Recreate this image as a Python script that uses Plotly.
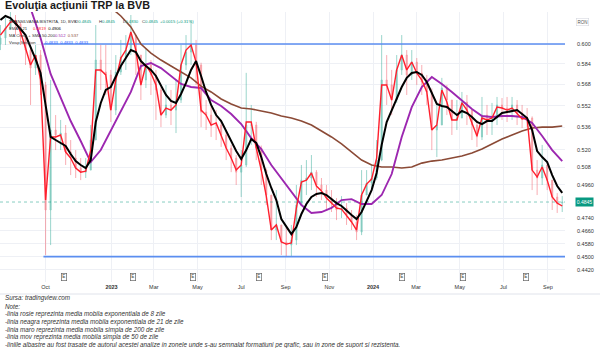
import math
import pandas as pd
import plotly.graph_objects as go

# ---------------- data ----------------
week_dates = pd.date_range("2022-07-30", periods=113, freq="7D")
ma_dates = pd.date_range("2022-07-30", periods=57, freq="14D")

first_open = 0.6000
close = [
    .6049, .6132, .6198, .6164, .6073, .5951, .5808, .5911, .5676, .4793,
    .5341, .5305, .5319, .5184, .5142, .5073, .5045, .5059, .5269, .5871,
    .5777, .5754, .5487, .5777, .5895, .5951, .6073, .5911, .5715, .5832,
    .5754, .5638, .5450, .5525, .5487, .5562, .5832, .5935, .5992, .5832,
    .5472, .5450, .5377, .5377, .5305, .5212, .5142, .5045, .5094, .5377,
    .5377, .5212, .5059, .4891, .4665, .4697, .4590, .4571, .4602, .4825,
    .4991, .5005, .5045, .4958, .4924, .4871, .4838, .4793, .4806, .4761,
    .4716, .4652, .4891, .4971, .5005, .5128, .5715, .5676, .5562, .5793,
    .5911, .5754, .5855, .5769, .5699, .5623, .5341, .5377, .5653, .5562,
    .5414, .5428, .5547, .5487, .5377, .5291, .5450, .5399, .5428, .5525,
    .5502, .5487, .5525, .5465, .5428, .5428, .5059, .5005, .5094, .4991,
    .4878, .4838, .4845]
high = [
    .6156, .6215, .6265, .6240, .6181, .6073, .5992, .5992, .5951, .5700,
    .5715, .5450, .5414, .5377, .5269, .5198, .5142, .5142, .5377, .6156,
    .5992, .5992, .5793, .5911, .6033, .6073, .6240, .6073, .5911, .5967,
    .5871, .5793, .5660, .5676, .5638, .5715, .5992, .6073, .6198, .6033,
    .5850, .5562, .5525, .5487, .5414, .5341, .5234, .5163, .5198, .5770,
    .5525, .5400, .5230, .5070, .4891, .4924, .4697, .4678, .4697, .4958,
    .5094, .5128, .5163, .5059, .5005, .4958, .4924, .4871, .4884, .4838,
    .4793, .4761, .5059, .5059, .5094, .5269, .6073, .5911, .5793, .5911,
    .6073, .5951, .5951, .5887, .5832, .5754, .5650, .5525, .5731, .5676,
    .5562, .5562, .5623, .5600, .5487, .5414, .5585, .5525, .5540, .5585,
    .5577, .5585, .5585, .5562, .5525, .5502, .5440, .5128, .5234, .5094,
    .4991, .4904, .4884]
low = [
    .5951, .5992, .6115, .6073, .5992, .5832, .5525, .5754, .5600, .4510,
    .4571, .5198, .5198, .5094, .5025, .5005, .4991, .5005, .5059, .5269,
    .5638, .5600, .5399, .5450, .5754, .5793, .5911, .5754, .5562, .5653,
    .5600, .5414, .5362, .5428, .5377, .5319, .5540, .5793, .5832, .5676,
    .5362, .5341, .5291, .5269, .5220, .5128, .5045, .4958, .4878, .5080,
    .5234, .5128, .4958, .4825, .4602, .4602, .4510, .4500, .4500, .4571,
    .4825, .4891, .4924, .4878, .4858, .4793, .4780, .4728, .4741, .4697,
    .4665, .4602, .4633, .4891, .4924, .4991, .5120, .5525, .5450, .5540,
    .5754, .5600, .5715, .5676, .5600, .5525, .5198, .5149, .5377, .5450,
    .5305, .5341, .5428, .5377, .5269, .5220, .5269, .5305, .5305, .5377,
    .5414, .5399, .5414, .5377, .5355, .5362, .4924, .4891, .4958, .4924,
    .4793, .4774, .4780]
ema8 = [
    .6073, .6132, .6181, .6190, .6098, .5967, .5832, .5911, .5715, .4858,
    .5291, .5291, .5305, .5184, .5142, .5073, .5045, .5052, .5198, .5793,
    .5793, .5754, .5487, .5715, .5887, .5951, .6098, .5951, .5676, .5832,
    .5769, .5676, .5450, .5502, .5487, .5525, .5832, .5951, .5992, .5855,
    .5487, .5450, .5377, .5392, .5305, .5212, .5142, .5059, .5094, .5399,
    .5399, .5212, .5059, .4884, .4665, .4697, .4590, .4577, .4584, .4806,
    .4978, .4991, .5039, .4951, .4918, .4871, .4838, .4806, .4799, .4761,
    .4716, .4665, .4891, .4964, .4998, .5142, .5676, .5676, .5562, .5793,
    .5911, .5793, .5855, .5769, .5715, .5623, .5341, .5377, .5638, .5547,
    .5414, .5414, .5540, .5487, .5384, .5298, .5428, .5414, .5428, .5510,
    .5502, .5487, .5502, .5465, .5421, .5428, .5059, .5012, .5080, .4991,
    .4878, .4838, .4819]
ema21 = [
    .6198, .6232, .6215, .6173, .6123, .6073, .5976, .5879, .5769, .5525,
    .5291, .5269, .5248, .5227, .5170, .5121, .5094, .5073, .5128, .5399,
    .5540, .5638, .5661, .5746, .5824, .5887, .5951, .5935, .5863, .5824,
    .5793, .5746, .5676, .5600, .5555, .5540, .5608, .5692, .5793, .5863,
    .5746, .5623, .5525, .5450, .5406, .5334, .5262, .5191, .5135, .5198,
    .5276, .5248, .5149, .5032, .4938, .4858, .4735, .4690, .4639, .4684,
    .4767, .4832, .4878, .4898, .4904, .4891, .4864, .4838, .4819, .4793,
    .4761, .4735, .4780, .4851, .4924, .5039, .5234, .5399, .5487, .5562,
    .5661, .5731, .5769, .5777, .5754, .5699, .5608, .5532, .5517, .5510,
    .5480, .5450, .5480, .5465, .5436, .5399, .5384, .5406, .5406, .5436,
    .5465, .5472, .5480, .5487, .5458, .5428, .5341, .5191, .5149, .5114,
    .5025, .4951, .4906]
sma50 = [
    None, None, None, .6297, .6049, .5762, .5577, .5406, .5262, .5114,
    .5198, .5334, .5472, .5623, .5824, .5848, .5808, .5746, .5684, .5661,
    .5653, .5562, .5517, .5458, .5384, .5283, .5205, .5094, .5005, .4918,
    .4825, .4774, .4780, .4806, .4858, .4864, .4832, .4832, .4891, .5032,
    .5291, .5509, .5661, .5738, .5684, .5623, .5555, .5495, .5443, .5436,
    .5443, .5443, .5436, .5392, .5298, .5198, .5121]
sma200 = [
    None, None, None, None, None, None, None, None, None, None,
    None, .6304, .6232, .6140, .6000, .5927, .5871, .5824, .5777, .5731,
    .5668, .5623, .5570, .5532, .5502, .5495, .5480, .5465, .5443, .5428,
    .5406, .5377, .5334, .5291, .5241, .5184, .5128, .5094, .5080, .5080,
    .5073, .5080, .5107, .5121, .5128, .5142, .5156, .5177, .5205, .5241,
    .5276, .5305, .5334, .5355, .5362, .5362, .5370]

open_ = [first_open] + close[:-1]

x_tickvals = ["2022-10-01", "2023-01-01", "2023-03-01", "2023-05-01", "2023-07-01",
              "2023-09-01", "2023-11-01", "2024-01-01", "2024-03-01", "2024-05-01",
              "2024-07-01", "2024-09-01"]
x_ticktext = ["Oct", "<b>2023</b>", "Mar", "May", "Jul", "Sep", "Nov", "<b>2024</b>",
              "Mar", "May", "Jul", "Sep"]
y_tickvals = [0.600, 0.584, 0.568, 0.552, 0.536, 0.520, 0.508, 0.496,
              0.474, 0.466, 0.458, 0.450, 0.442]
y_ticktext = ["0.600", "0.584", "0.568", "0.552", "0.536", "0.520", "0.508", "0.4960",
              "0.4740", "0.4660", "0.4580", "0.4500", "0.4420"]
levels = [0.600, 0.450]
level_start = "2022-09-28"
last_price = 0.4845
earnings_dates = ["2022-10-26", "2023-01-31", "2023-04-25", "2023-07-26",
                  "2023-10-26", "2024-02-10", "2024-05-05", "2024-08-02"]
x_range = ["2022-07-29 09:00", "2024-09-24 21:00"]
y_range = [0.43481, 0.62655]

notes = [
    "Sursa: tradingview.com",
    "Note:",
    "-linia rosie reprezinta media mobila exponentiala de 8 zile",
    "-linia neagra reprezinta media mobila exponentiala de 21 de zile",
    "-linia maro reprezinta media mobila simpla de 200 de zile",
    "-linia mov reprezinta media mobila simpla de 50 de zile",
    "-liniile albastre au fost trasate de autorul acestei analize in zonele unde s-au semnalat "
    "formatiuni pe grafic, sau in zone de suport si rezistenta.",
]

# ---------------- layout helpers ----------------
W, H = 600, 348
PLOT_TOP, PLOT_BOT, PLOT_R = 12, 282, 565
FONT = "Liberation Sans, Arial, sans-serif"


def py(px):
    return (PLOT_BOT - px) / (PLOT_BOT - PLOT_TOP)


def pxx(px):
    return px / PLOT_R


GREEN = "#089981"
RED = "#f23645"

fig = go.Figure()

fig.add_trace(go.Candlestick(
    x=week_dates, open=open_, high=high, low=low, close=close,
    increasing=dict(line=dict(color=GREEN, width=0.8), fillcolor=GREEN),
    decreasing=dict(line=dict(color=RED, width=0.8), fillcolor=RED),
    whiskerwidth=0, opacity=0.5, hoverinfo="skip"))

# last price dotted line
fig.add_trace(go.Scatter(x=x_range, y=[last_price, last_price], mode="lines",
                         line=dict(color=GREEN, width=0.8, dash="dot"), opacity=0.6,
                         hoverinfo="skip"))

for lvl in levels:
    fig.add_trace(go.Scatter(x=[level_start, x_range[1]], y=[lvl, lvl], mode="lines",
                             line=dict(color="#5b8ef0", width=1.6), hoverinfo="skip"))

fig.add_trace(go.Scatter(x=ma_dates, y=sma200, mode="lines",
                         line=dict(color="#8b4a36", width=1.6), hoverinfo="skip"))
fig.add_trace(go.Scatter(x=ma_dates, y=sma50, mode="lines",
                         line=dict(color="#9c27b0", width=1.9), hoverinfo="skip"))
fig.add_trace(go.Scatter(x=week_dates, y=ema8, mode="lines",
                         line=dict(color="#ff1f2d", width=1.4), hoverinfo="skip"))
fig.add_trace(go.Scatter(x=week_dates, y=ema21, mode="lines",
                         line=dict(color="#000000", width=2), hoverinfo="skip"))

ann = []
# title
ann.append(dict(x=pxx(3), y=py(5.5), xref="paper", yref="paper", xanchor="left", yanchor="middle",
                text="<b>Evoluţia acţiunii TRP la BVB</b>", showarrow=False,
                font=dict(family=FONT, size=10.8, color="#1a1a1a")))

# header legend
hdr_font = dict(family=FONT, size=4.2, color="#333")
G = "<span style='color:%s'>%s</span>"
hdr = [
    (7, 21, "TRANSILVANIA BISTRITA, 1D, BVB"),
    (73, 21, "O" + G % (GREEN, "0.4845")),
    (97, 21, "H" + G % (GREEN, "0.4845")),
    (121, 21, "L" + G % (GREEN, "0.4830")),
    (140, 21, "C" + G % (GREEN, "0.4845")),
    (158, 21, G % (GREEN, "+0.0015 (+0.31%)")),
    (7, 28.3, "EMA 8 21"),
    (31, 28.3, G % ("#ff1f2d", "0.4819") + "  " + G % ("#000", "0.4906")),
    (7, 35.7, "MA Cross + SMA 50-200"),
    (53, 35.7, G % ("#9c27b0", "0.512") + "  " + G % ("#8b4a36", "0.537")),
    (7, 42.3, "Vwap Session"),
    (43, 42.3, G % ("#2962ff", "0.4833") + "  " + G % ("#2962ff", "0.4833") + "  "
     + G % ("#2962ff", "0.4833")),
]
for x, y, t in hdr:
    ann.append(dict(x=pxx(x), y=py(y), xref="paper", yref="paper", xanchor="left",
                    yanchor="middle", text=t, showarrow=False, font=hdr_font))

# RON label
ann.append(dict(x=pxx(582), y=py(21.5), xref="paper", yref="paper", xanchor="center",
                yanchor="middle", text="RON", showarrow=False,
                font=dict(family=FONT, size=4.5, color="#555"),
                bordercolor="#d5d8df", borderwidth=0.6, borderpad=1, bgcolor="white"))
# last price box
ann.append(dict(x=pxx(584), y=math.log10(last_price), xref="paper", yref="y",
                xanchor="center", yanchor="middle", text="0.4845", showarrow=False,
                font=dict(family=FONT, size=5, color="white"), bgcolor=GREEN, borderpad=0.8))
# earnings markers
for d in earnings_dates:
    ann.append(dict(x=d, y=py(276.5), xref="x", yref="paper", xanchor="center",
                    yanchor="middle", text="E", showarrow=False,
                    font=dict(family=FONT, size=4.5, color="#444"),
                    bordercolor="#666", borderwidth=0.7, borderpad=0.6, bgcolor="white"))
# notes
note_y = [298.3, 306, 314.3, 321.8, 329.5, 337.3, 345]
for t, y in zip(notes, note_y):
    ann.append(dict(x=pxx(3), y=py(y), xref="paper", yref="paper", xanchor="left",
                    yanchor="middle", text="<i>" + t + "</i>", showarrow=False,
                    font=dict(family=FONT, size=6.3, color="#333")))

shapes = [
    dict(type="line", xref="paper", yref="paper", x0=0, x1=W / PLOT_R, y0=py(294), y1=py(294),
         line=dict(color="#e0e3eb", width=1)),
]

fig.update_layout(
    width=W, height=H,
    margin=dict(l=0, r=W - PLOT_R, t=PLOT_TOP, b=H - PLOT_BOT),
    paper_bgcolor="white", plot_bgcolor="white",
    showlegend=False, hovermode=False, boxgap=0.7,
    annotations=ann, shapes=shapes,
    xaxis=dict(type="date", range=x_range, tickvals=x_tickvals, ticktext=x_ticktext,
               tickfont=dict(family=FONT, size=5.5, color="#333"), showgrid=True,
               gridcolor="#eef0f5", gridwidth=1, zeroline=False, showline=False, ticks="",
               rangeslider=dict(visible=False), fixedrange=True),
    yaxis=dict(type="log", range=[math.log10(y_range[0]), math.log10(y_range[1])],
               side="right", tickvals=y_tickvals, ticktext=y_ticktext,
               tickfont=dict(family=FONT, size=5.5, color="#333"), showgrid=True,
               gridcolor="#eef0f5", gridwidth=1, zeroline=False, showline=False, ticks="",
               ticklabelstandoff=11, fixedrange=True),
)

fig.write_html("out.html")
